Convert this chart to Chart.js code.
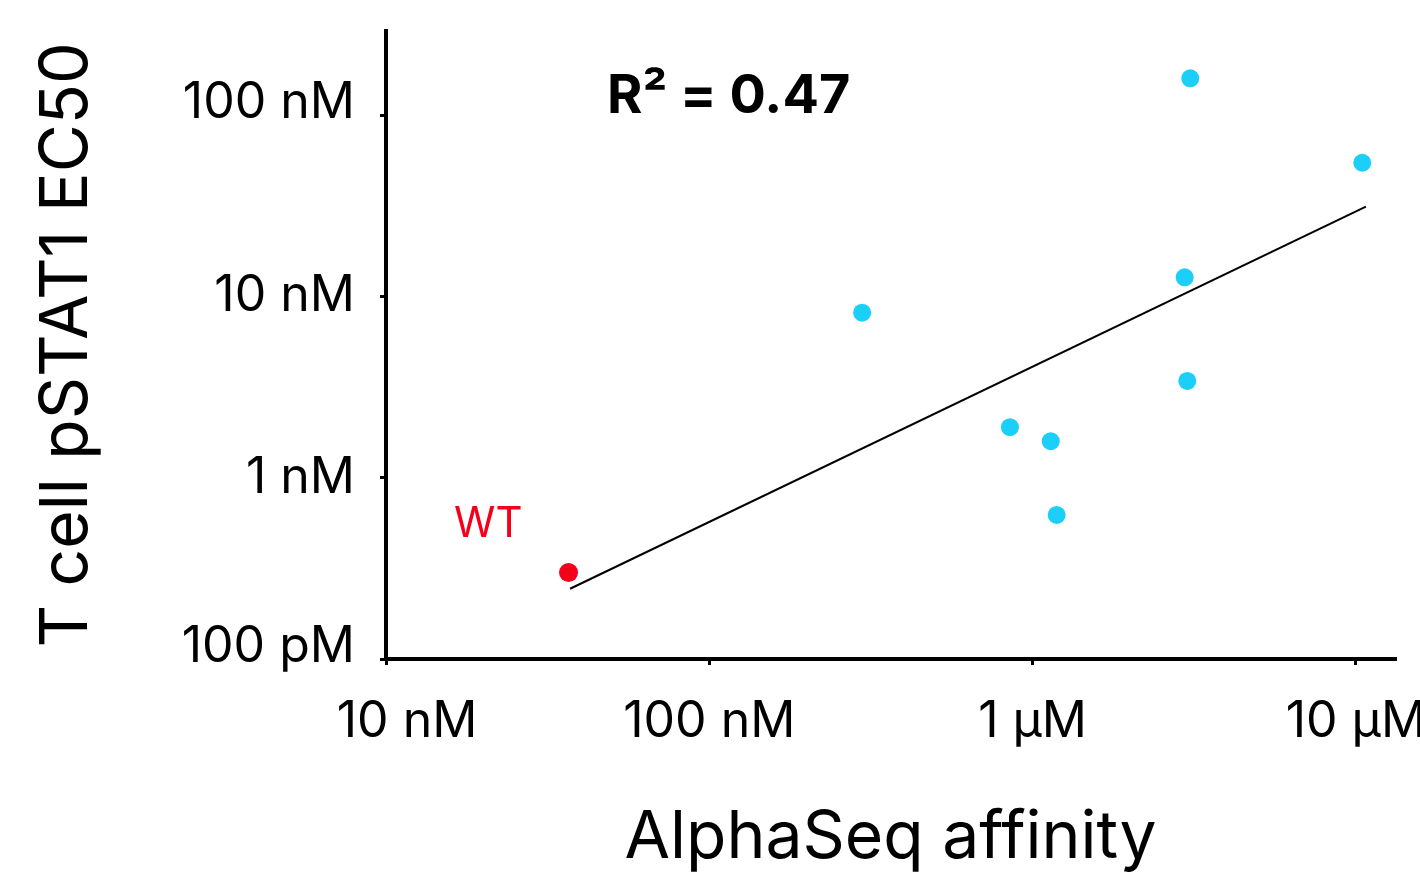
<!DOCTYPE html>
<html>
<head>
<meta charset="utf-8">
<script src="https://cdn.jsdelivr.net/npm/chart.js@4"></script>
<style>
    html, body { margin: 0; padding: 0; background: #fff; overflow: hidden; }
    #wrap { position: relative; width: 1440px; height: 873px; }
</style>
</head>
<body>
<div id="wrap"><canvas id="scatterChart"></canvas></div>
<script>
// --- data (all values in nM) ---
const variantAffinity = [297, 851, 1138, 1187, 3009, 2954, 3074, 10466];
const variantEC50 = [8.13, 1.90, 1.59, 0.623, 3.42, 12.75, 159.6, 54.6];

const wtAffinity = [36.7];
const wtEC50 = [0.30];

// regression line end points
const fitAffinity = [37.1, 10740];
const fitEC50 = [0.244, 31.3];

const xTickValues = [10, 100, 1000, 10000];
const xTickLabels = ['   10 nM', '100 nM', '1 µM', '10 µM'];
const yTickValues = [0.1, 1, 10, 100];
const yTickLabels = [['100 pM', ''], '1 nM', '10 nM', ['100 nM', '']];

const rSquaredText = 'R² = 0.47';
const wtText = 'WT';

const FONT = 'Inter, "Noto Sans", "DejaVu Sans", sans-serif';
const CYAN = '#1ccff8';
const RED = '#f5001a';

function toPoints(xs, ys) {
    return xs.map((x, i) => ({ x: x, y: ys[i] }));
}

// 주석 텍스트 (R², WT)
const annotationPlugin = {
    id: 'annotations',
    afterDatasetsDraw(chart) {
        const { ctx, chartArea, scales } = chart;
        ctx.save();
        ctx.fillStyle = '#000';
        ctx.font = 'bold 54px ' + FONT;
        ctx.textAlign = 'left';
        ctx.textBaseline = 'middle';
        ctx.fillText(rSquaredText, chartArea.left + 221, chartArea.top + 66);

        const wx = scales.x.getPixelForValue(wtAffinity[0]);
        const wy = scales.y.getPixelForValue(wtEC50[0]);
        ctx.fillStyle = RED;
        ctx.font = '42px ' + FONT;
        ctx.textAlign = 'right';
        ctx.fillText(wtText, wx - 46, wy - 48);
        ctx.restore();
    }
};

new Chart(document.getElementById('scatterChart'), {
    type: 'scatter',
    data: {
        datasets: [
            {
                data: toPoints(variantAffinity, variantEC50),
                backgroundColor: CYAN,
                borderWidth: 0,
                pointRadius: 9,
                pointHoverRadius: 9
            },
            {
                data: toPoints(wtAffinity, wtEC50),
                backgroundColor: RED,
                borderWidth: 0,
                pointRadius: 9.5,
                pointHoverRadius: 9.5
            },
            {
                type: 'line',
                data: toPoints(fitAffinity, fitEC50),
                borderColor: '#000',
                borderWidth: 2,
                pointRadius: 0,
                fill: false
            }
        ]
    },
    options: {
        responsive: true,
        maintainAspectRatio: false,
        animation: false,
        layout: { padding: { top: 31, right: 45, bottom: 0, left: 0 } },
        plugins: {
            legend: { display: false },
            tooltip: { enabled: false }
        },
        scales: {
            x: {
                type: 'logarithmic',
                min: 10,
                max: 13213,
                afterBuildTicks: scale => { scale.ticks = xTickValues.map(v => ({ value: v })); },
                afterFit: scale => {
                    scale.height = 214;
                    scale.paddingLeft = 0;
                    scale.paddingRight = 0;
                },
                border: { display: true, color: '#000', width: 4 },
                grid: { drawOnChartArea: false, drawTicks: true, tickLength: 6, color: '#000', lineWidth: 3 },
                ticks: {
                    color: '#000',
                    padding: 27,
                    maxRotation: 0,
                    autoSkip: false,
                    font: { family: FONT, size: 50 },
                    callback: (value, index) => xTickLabels[index]
                },
                title: {
                    display: true,
                    text: 'AlphaSeq affinity',
                    color: '#000',
                    font: { family: FONT, size: 66, lineHeight: 1 },
                    padding: { top: 0, bottom: 2 }
                }
            },
            y: {
                type: 'logarithmic',
                min: 0.1,
                max: 291,
                afterBuildTicks: scale => { scale.ticks = yTickValues.map(v => ({ value: v })); },
                afterFit: scale => {
                    scale.width = 386;
                    scale.paddingTop = 0;
                    scale.paddingBottom = 0;
                },
                border: { display: true, color: '#000', width: 4 },
                grid: { drawOnChartArea: false, drawTicks: true, tickLength: 6, color: '#000', lineWidth: 3 },
                ticks: {
                    color: '#000',
                    padding: 25,
                    autoSkip: false,
                    font: { family: FONT, size: 50, lineHeight: 0.48 },
                    callback: (value, index) => yTickLabels[index]
                },
                title: {
                    display: true,
                    text: 'T cell pSTAT1 EC50',
                    color: '#000',
                    font: { family: FONT, size: 66, lineHeight: 1 },
                    padding: { top: 34, bottom: 0 }
                }
            }
        }
    },
    plugins: [annotationPlugin]
});
</script>
</body>
</html>
